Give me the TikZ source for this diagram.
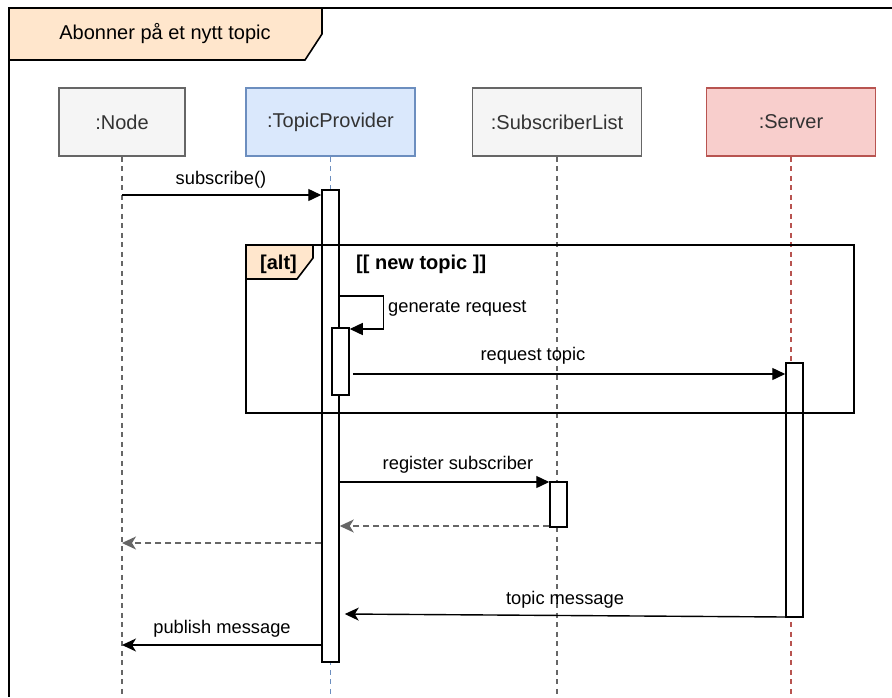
\documentclass[tikz,border=0pt]{standalone}
\usepackage{fontspec}
\setmainfont{Liberation Sans}
\usetikzlibrary{arrows.meta}

\definecolor{grayfill}{HTML}{F5F5F5}
\definecolor{graystroke}{HTML}{666666}
\definecolor{bluefill}{HTML}{DAE8FC}
\definecolor{bluestroke}{HTML}{6C8EBF}
\definecolor{redfill}{HTML}{F8CECC}
\definecolor{redstroke}{HTML}{B85450}
\definecolor{tabfill}{HTML}{FFE6CC}
\definecolor{headtext}{HTML}{333333}

\tikzset{
  lifehead/.style={draw, line width=1.5pt, minimum height=68pt, inner sep=0pt,
    text=headtext, font=\fontsize{20}{24}\selectfont},
  lifeline/.style={line width=1.4pt, dash pattern=on 5pt off 4.5pt},
  actbox/.style={draw=black, fill=white, line width=1.5pt, minimum width=17pt,
    inner sep=0pt},
  msg/.style={draw=black, line width=1.4pt, -{Triangle[length=13pt,width=12pt]}},
  msgback/.style={draw=black, line width=1.4pt,
    -{Stealth[length=14pt,width=13pt,inset=4pt]}},
  retmsg/.style={draw=graystroke, line width=1.4pt, dash pattern=on 6pt off 4pt,
    -{Stealth[length=14pt,width=13pt,inset=4pt]}},
  lbl/.style={inner sep=0pt, font=\fontsize{18.3}{22}\selectfont},
  bold/.style={inner sep=0pt, font=\fontsize{20}{24}\selectfont\bfseries},
  framepen/.style={line width=1.6pt, draw=black}
}

\begin{document}
\begin{tikzpicture}[x=1pt, y=-1pt]
\useasboundingbox[fill=white] (0,0) rectangle (892,697);

% lifeline heads
\node[lifehead, fill=grayfill, draw=graystroke, minimum width=126pt] (nd) at (122,122) {:Node};
\node[lifehead, fill=bluefill, draw=bluestroke, minimum width=169pt] (tp) at (330.5,122) {:TopicProvider};
\node[lifehead, fill=grayfill, draw=graystroke, minimum width=169pt] (sl) at (557,122) {:SubscriberList};
\node[lifehead, fill=redfill, draw=redstroke, minimum width=169pt] (sv) at (791,122) {:Server};

% dashed lifelines
\draw[lifeline, draw=graystroke] (nd.south) -- (nd.south |- 0,697);
\draw[lifeline, draw=bluestroke] (tp.south) -- (tp.south |- 0,697);
\draw[lifeline, draw=graystroke] (sl.south) -- (sl.south |- 0,697);
\draw[lifeline, draw=redstroke] (sv.south) -- (sv.south |- 0,697);

% activation bars
\node[actbox, minimum height=472pt] (tpact) at (330.5,426) {};
\node[actbox, minimum height=67pt] (nest) at (340.5,361.5) {};
\node[actbox, minimum height=254pt] (sact) at (794.5,490) {};
\node[actbox, minimum height=45pt] (slact) at (558.5,504.5) {};

% alt fragment
\draw[framepen] (246,245) rectangle (854,413);
\draw[framepen, fill=tabfill] (246,245) -- (313,245) -- (313,258) -- (297,279) -- (246,279) -- cycle;
\node[bold] (altlbl) at (278.5,264) {[alt]};
\node[bold, anchor=west] (guard) at (356,264) {[[ new topic ]]};

% messages
\draw[msg] (nd.south |- 0,195) -- (tpact.west |- 0,195);
\node[lbl] (l1) at (221,180) {subscribe()};

\draw[msg] (tpact.east |- 0,296) -- ++(44,0) |- (nest.east |- 0,329);
\node[lbl, anchor=west] (l2) at (388,308) {generate request};

\draw[msg] ([xshift=3pt]nest.east |- 0,374) -- (sact.west |- 0,374);
\node[lbl] (l3) at (533,356) {request topic};

\draw[msg] (tpact.east |- 0,482) -- (slact.west |- 0,482);
\node[lbl] (l4) at (458,465) {register subscriber};

\draw[retmsg] (slact.west |- 0,526) -- (tpact.east |- 0,526);
\draw[retmsg] (tpact.west |- 0,543) -- (nd.south |- 0,543);

\draw[msgback] (sact.west |- 0,617) -- ([xshift=5pt]tpact.east |- 0,614);
\node[lbl] (l5) at (565,600) {topic message};

\draw[msgback] (tpact.west |- 0,645) -- (nd.south |- 0,645);
\node[lbl] (l6) at (222,629) {publish message};

% outer frame with its title tab
\draw[framepen] (892,8) -- (9,8) -- (9,697);
\draw[framepen, fill=tabfill] (9,8) -- (322,8) -- (322,34) -- (305,60) -- (9,60) -- cycle;
\node[inner sep=0pt, font=\fontsize{20}{24}\selectfont] (title) at (165,34) {Abonner på et nytt topic};
\end{tikzpicture}
\end{document}
